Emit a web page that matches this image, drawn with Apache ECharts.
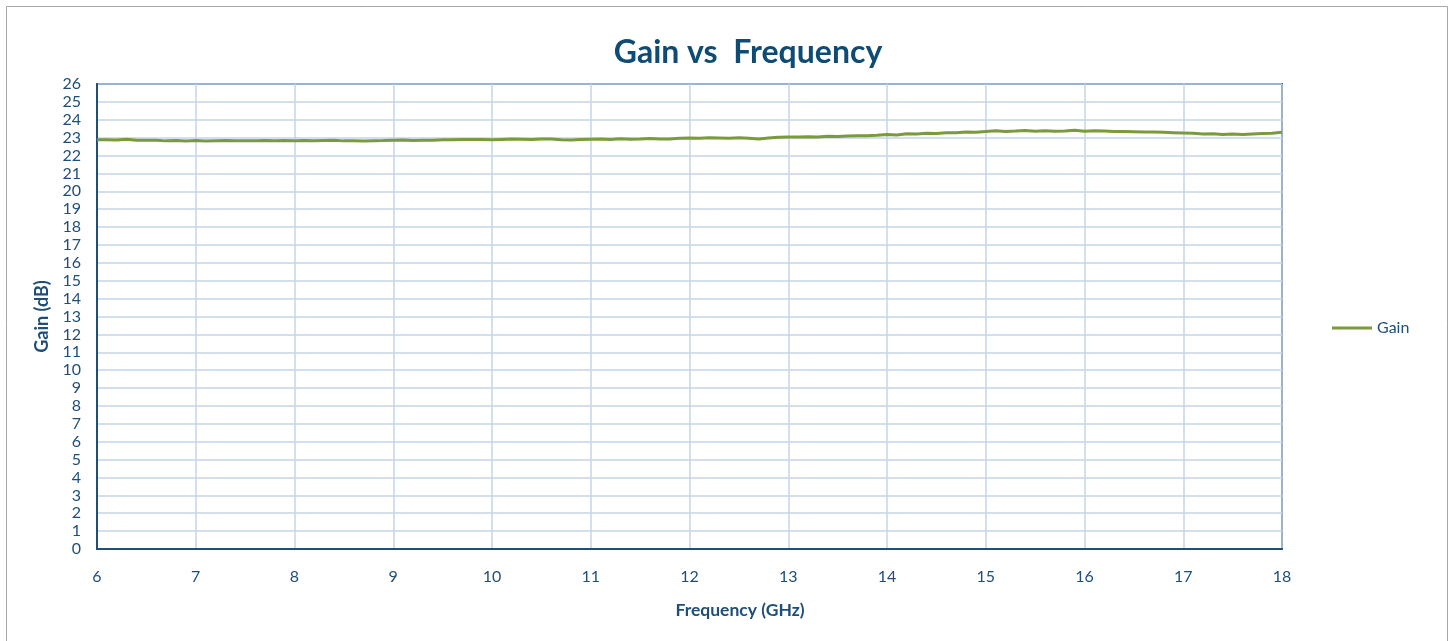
<!DOCTYPE html>
<html><head><meta charset="utf-8">
<script src="https://cdn.jsdelivr.net/npm/echarts@6/dist/echarts.min.js"></script>
<style>html,body{margin:0;padding:0;background:#fff}#c{width:1455px;height:641px}</style>
</head><body><div id="c"></div>
<script>
const title = "Gain vs  Frequency";
const xName = "Frequency (GHz)";
const yName = "Gain (dB)";
const seriesName = "Gain";
const freqStart = 6, freqStep = 0.1;
const gain = [
22.88,22.88,22.87,22.91,22.85,22.86,22.86,22.82,22.84,22.81,
22.84,22.81,22.83,22.84,22.83,22.82,22.83,22.84,22.82,22.84,
22.83,22.84,22.82,22.84,22.85,22.82,22.83,22.81,22.83,22.84,
22.86,22.87,22.84,22.86,22.85,22.88,22.88,22.89,22.90,22.89,
22.88,22.90,22.92,22.91,22.90,22.92,22.93,22.88,22.87,22.89,
22.91,22.93,22.90,22.94,22.91,22.92,22.95,22.92,22.93,22.96,
22.98,22.96,22.99,22.98,22.96,23.00,22.97,22.93,22.98,23.02,
23.04,23.03,23.05,23.03,23.08,23.07,23.09,23.10,23.11,23.13,
23.17,23.15,23.22,23.20,23.24,23.23,23.27,23.28,23.31,23.30,
23.34,23.38,23.35,23.37,23.40,23.36,23.38,23.36,23.37,23.41,
23.36,23.39,23.37,23.35,23.34,23.33,23.32,23.31,23.30,23.28,
23.26,23.24,23.20,23.22,23.18,23.20,23.17,23.21,23.23,23.25,
23.30
];
const freq = gain.map((_, i) => +(freqStart + i * freqStep).toFixed(2));
const data = freq.map((f, i) => [f, gain[i]]);

const dark = '#1F4E79';
const chart = echarts.init(document.getElementById('c'));
chart.setOption({
  animation: false,
  textStyle: {fontFamily: 'Lato, sans-serif'},
  title: {text: title, left: 743, top: 32, textAlign: 'center',
    textStyle: {fontSize: 32, fontWeight: 'bold', color: '#0E4C73', fontFamily: 'Lato'}},
  graphic: [{type: 'rect', shape: {x: 6.5, y: 6.5, width: 1441, height: 700},
    style: {fill: 'none', stroke: '#a6a6a6', lineWidth: 1}, silent: true}],
  legend: {data: [seriesName], left: 1327, top: 315, orient: 'vertical',
    itemWidth: 40, itemHeight: 3, itemGap: 4,
    icon: 'rect',
    textStyle: {color: dark, fontSize: 16, fontFamily: 'Lato'}},
  grid: {left: 97, right: 173, top: 84, bottom: 92, show: true, borderColor: dark, borderWidth: 2, containLabel: false},
  xAxis: {type: 'value', min: 6, max: 18, interval: 1,
    name: xName, nameLocation: 'middle', nameGap: 52,
    nameTextStyle: {color: dark, fontSize: 17.5, fontWeight: 'bold', padding: [0, 0, 0, 101]},
    axisLine: {lineStyle: {color: dark, width: 2}}, axisTick: {show: false},
    axisLabel: {color: dark, fontSize: 16, margin: 20},
    splitLine: {lineStyle: {color: '#C6D5E9', width: 1.5}}},
  yAxis: {type: 'value', min: 0, max: 26, interval: 1,
    name: yName, nameLocation: 'middle', nameGap: 46, nameRotate: 90,
    nameTextStyle: {color: dark, fontSize: 18, fontWeight: 'bold'},
    axisLine: {show: true, lineStyle: {color: dark, width: 2}}, axisTick: {show: false},
    axisLabel: {color: dark, fontSize: 16, margin: 16},
    splitLine: {lineStyle: {color: '#C6D5E9', width: 1.5}}},
  series: [{name: seriesName, type: 'line', data: data, showSymbol: false, symbol: 'none',
    lineStyle: {color: '#7A9A3C', width: 3}, itemStyle: {color: '#7A9A3C'}}]
});
</script></body></html>
